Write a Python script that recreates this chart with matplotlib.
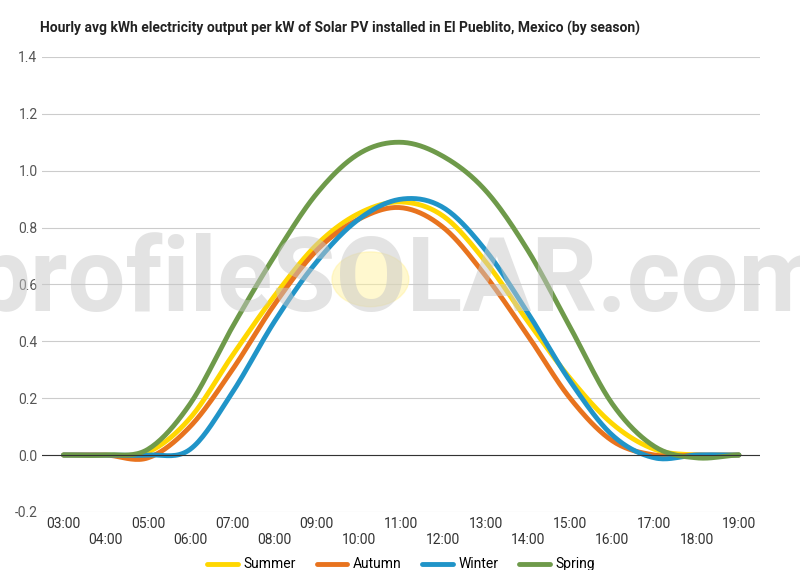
import matplotlib
matplotlib.use("Agg")
import matplotlib.pyplot as plt
import numpy as np
from matplotlib.patches import Circle

hours = ["03:00","04:00","05:00","06:00","07:00","08:00","09:00","10:00","11:00",
         "12:00","13:00","14:00","15:00","16:00","17:00","18:00","19:00"]
summer = [0,0,0.01,0.13,0.35,0.56,0.74,0.85,0.89,0.84,0.68,0.47,0.27,0.11,0.02,0,0]
autumn = [0,0,-0.01,0.10,0.30,0.53,0.72,0.83,0.87,0.80,0.63,0.42,0.20,0.05,0,0,0]
winter = [0,0,0,0.02,0.22,0.47,0.68,0.83,0.90,0.87,0.72,0.50,0.26,0.07,-0.01,0,0]
spring = [0,0,0.02,0.18,0.45,0.70,0.92,1.06,1.10,1.05,0.93,0.72,0.45,0.18,0.03,-0.01,0]
series = [("Summer", summer, "#FFD700"), ("Autumn", autumn, "#E8731E"),
          ("Winter", winter, "#2094C8"), ("Spring", spring, "#6E9A4A")]

def smooth(y, n=20):
    y = np.asarray(y, float)
    p = np.concatenate([[y[0]], y, [y[-1]]])
    xs, ys = [], []
    for i in range(len(y) - 1):
        p0, p1, p2, p3 = p[i], p[i+1], p[i+2], p[i+3]
        t = np.linspace(0, 1, n, endpoint=False)
        ys.append(0.5*((2*p1) + (-p0+p2)*t + (2*p0-5*p1+4*p2-p3)*t**2 + (-p0+3*p1-3*p2+p3)*t**3))
        xs.append(i + t)
    xs.append([len(y)-1]); ys.append([y[-1]])
    return np.concatenate(xs), np.concatenate(ys)

plt.rcParams['font.family'] = ['Roboto', 'DejaVu Sans']
fig = plt.figure(figsize=(8, 5.7), dpi=100)
ax = fig.add_axes([0.053, 0.102, 0.897, 0.798])
x = np.arange(len(hours))
for name, vals, col in series:
    sx, sy = smooth(vals)
    ax.plot(sx, sy, color=col, lw=3.5, label=name, solid_capstyle='round')
ax.set_xlim(-0.5, len(hours) - 0.5)
ax.set_ylim(-0.2, 1.4)
ax.set_yticks(np.arange(-0.2, 1.41, 0.2))
ax.set_yticklabels([f"{v:.1f}" for v in np.arange(-0.2, 1.41, 0.2)], color="#555555", fontsize=10)
ax.set_xticks(x)
ax.set_xticklabels([h if i % 2 == 0 else "\n" + h for i, h in enumerate(hours)], color="#333333", fontsize=10)
ax.tick_params(length=0)
ax.grid(axis='y', color="#cccccc", lw=0.8)
ax.axhline(0, color="#333333", lw=0.8)
for s in ax.spines.values():
    s.set_visible(False)
ax.set_axisbelow(True)
fig.text(0.05, 0.95, "Hourly avg kWh electricity output per kW of Solar PV installed in El Pueblito, Mexico (by season)",
         fontsize=10, fontweight='bold', color="#222222", va='center')
fig.text(0.5, 0.505, "profileSOLAR.com", fontsize=74, color="#c8c8c8", alpha=0.5, ha='center', va='center',
         fontweight='bold', zorder=0)
fig.patches.append(Circle((0.463, 0.51), 0.048, transform=fig.transFigure, color="#FFF2A0", alpha=0.5, zorder=0))
ax.legend(loc='upper center', bbox_to_anchor=(0.5, -0.085), ncol=4, frameon=False, fontsize=10,
          handlelength=2.2, columnspacing=1.5, borderpad=0, handletextpad=0.4)
fig.savefig("out.png")
